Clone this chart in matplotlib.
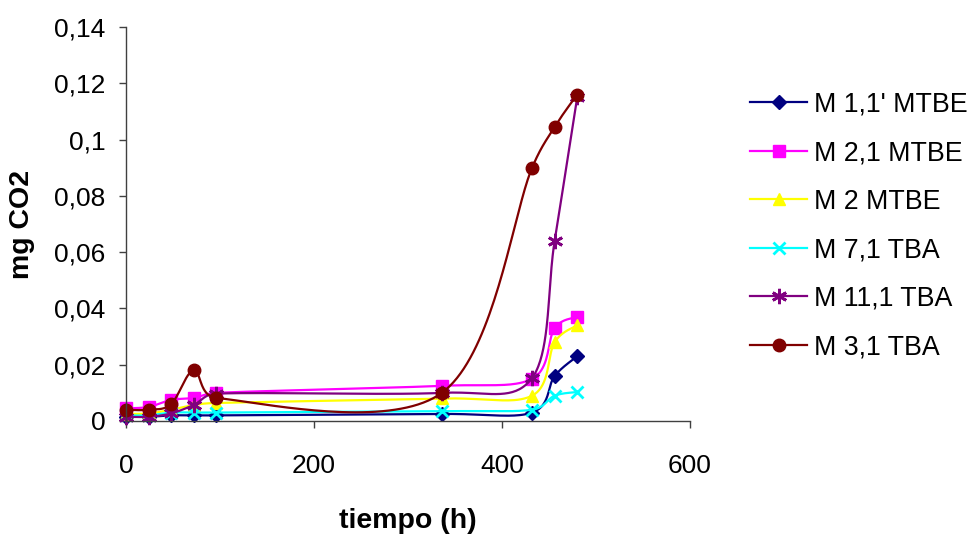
import numpy as np
import matplotlib
matplotlib.use("Agg")
import matplotlib.pyplot as plt
from matplotlib.lines import Line2D

plt.rcParams['font.family'] = ['Liberation Sans', 'DejaVu Sans']

hours = [0, 24, 48, 72, 96, 336, 432, 456, 480]
labels = ["M 1,1' MTBE", "M 2,1 MTBE", "M 2 MTBE", "M 7,1 TBA", "M 11,1 TBA", "M 3,1 TBA"]
m11_mtbe = [0.0015, 0.0015, 0.002, 0.002, 0.002, 0.0025, 0.003, 0.016, 0.023]
m21_mtbe = [0.0045, 0.005, 0.0075, 0.0082, 0.010, 0.0125, 0.015, 0.033, 0.037]
m2_mtbe = [0.0025, 0.0027, 0.004, 0.0057, 0.0064, 0.008, 0.009, 0.028, 0.034]
m71_tba = [0.002, 0.002, 0.003, 0.003, 0.003, 0.0035, 0.004, 0.009, 0.0103]
m111_tba = [0.0015, 0.0015, 0.0027, 0.0057, 0.0097, 0.010, 0.0153, 0.064, 0.115]
m31_tba = [0.004, 0.004, 0.006, 0.018, 0.0082, 0.010, 0.090, 0.1045, 0.116]
series = [m11_mtbe, m21_mtbe, m2_mtbe, m71_tba, m111_tba, m31_tba]

colors = ['#000080', '#FF00FF', '#FFFF00', '#00FFFF', '#800080', '#800000']
markers = ['D', 's', '^', 'x', (6, 2, 0), 'o']
msizes = [7, 8, 9, 9, 11, 9]


def excel_smooth(ax, x, y, n=40):
    """Excel-like smoothed line: Bezier segments with capped control points (pixel space)."""
    P = ax.transData.transform(np.column_stack([x, y]).astype(float))
    out = []
    for i in range(len(P) - 1):
        p0 = P[i - 1] if i > 0 else P[i]
        p1 = P[i]
        p2 = P[i + 1]
        p3 = P[i + 2] if i + 2 < len(P) else P[i + 1]
        d02 = np.linalg.norm(p2 - p0)
        d12 = np.linalg.norm(p2 - p1)
        d13 = np.linalg.norm(p3 - p1)
        f = g = 1.0 / 6.0
        if d02 > 0 and d02 / 6 >= d12 / 2:
            f = d12 / (2 * d02)
        if d13 > 0 and d13 / 6 >= d12 / 2:
            g = d12 / (2 * d13)
        b1 = p1 + f * (p2 - p0)
        b2 = p2 - g * (p3 - p1)
        t = np.linspace(0, 1, n)[:, None]
        seg = ((1 - t) ** 3) * p1 + 3 * ((1 - t) ** 2) * t * b1 + 3 * (1 - t) * t ** 2 * b2 + t ** 3 * p2
        out.append(seg if i == 0 else seg[1:])
    c = ax.transData.inverted().transform(np.vstack(out))
    return c[:, 0], c[:, 1]


fig = plt.figure(figsize=(9.71, 5.34), dpi=100)
ax = fig.add_axes([126 / 971, 1 - 421 / 534, (690 - 126) / 971, (421 - 27) / 534])
ax.set_xlim(0, 600)
ax.set_ylim(0, 0.14)

handles = []
for s, c, m, ms, lab in zip(series, colors, markers, msizes, labels):
    sx, sy = excel_smooth(ax, hours, s)
    ax.plot(sx, sy, color=c, lw=1.6, clip_on=False)
    mew = 2 if m in ('x', (6, 2, 0)) else 1
    ax.plot(hours, s, linestyle='none', marker=m, color=c, ms=ms, mew=mew, clip_on=False)
    handles.append(Line2D([], [], color=c, lw=1.6, marker=m, ms=ms, mew=mew))

ax.set_xticks([0, 200, 400, 600])
ax.set_yticks([0, 0.02, 0.04, 0.06, 0.08, 0.10, 0.12, 0.14])
ax.set_yticklabels(['0', '0,02', '0,04', '0,06', '0,08', '0,1', '0,12', '0,14'])
for sp in ['top', 'right']:
    ax.spines[sp].set_visible(False)
for sp in ['left', 'bottom']:
    ax.spines[sp].set_color('#404040')
    ax.spines[sp].set_linewidth(1.0)
ax.tick_params(direction='out', length=5, width=1, color='#404040', labelsize=19)
ax.tick_params(axis='y', pad=10)
ax.tick_params(axis='x', pad=19)

ax.set_xlabel('tiempo (h)', fontsize=20.5, fontweight='bold')
ax.set_ylabel('mg CO2', fontsize=20.5, fontweight='bold')
ax.xaxis.set_label_coords(0.5, (421 - 508) / 394)
ax.yaxis.set_label_coords((35 - 126) / 564, 0.5)

leg = fig.legend(handles, labels, loc='upper left', bbox_to_anchor=(739 / 971, 1 - 81 / 534),
                 frameon=False, fontsize=19.3, handlelength=2.15, handletextpad=0.26,
                 labelspacing=0.84, borderaxespad=0)

fig.savefig('out.png', dpi=100)
